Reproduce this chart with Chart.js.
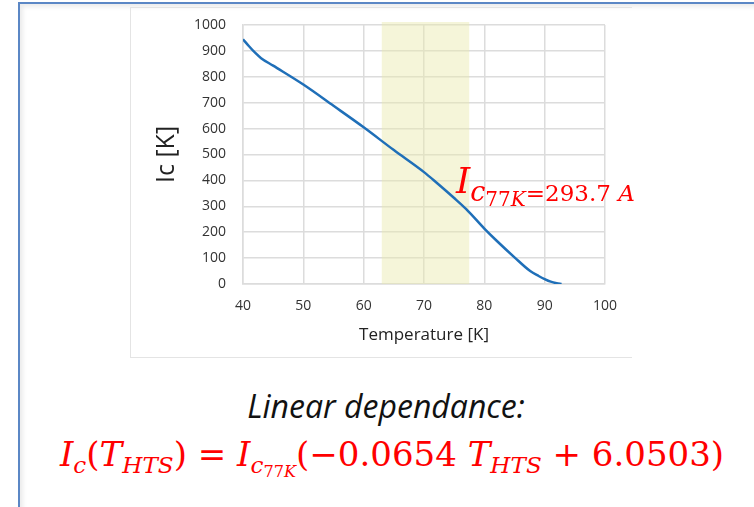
<!DOCTYPE html>
<html lang="en">
<head>
<meta charset="UTF-8">
<title>Ic vs Temperature</title>
<script src="https://cdn.jsdelivr.net/npm/chart.js"></script>
<style>
    html, body {
        margin: 0;
        padding: 0;
        width: 754px;
        height: 507px;
        background: #fff;
        overflow: hidden;
        position: relative;
    }
    .slide-frame {
        position: absolute;
        left: 18px;
        top: 2px;
        width: 760px;
        height: 520px;
        border-top: 2px solid #5b87c5;
        border-left: 2px solid #5b87c5;
        box-shadow: inset 3px 3px 4px rgba(0,0,0,0.08);
    }
    .chart-box {
        position: absolute;
        left: 130px;
        top: 7px;
        width: 502px;
        height: 351px;
        border: 1px solid #e4e4e4;
        border-right: none;
        box-sizing: border-box;
    }
    .chart-box canvas {
        position: absolute;
        left: 0;
        top: 0;
    }
    .ic-label {
        position: absolute;
        left: 456px;
        top: 160px;
        color: #ff0000;
        font-family: 'DejaVu Serif', serif;
        white-space: nowrap;
    }
    .note {
        position: absolute;
        left: 0;
        text-align: center;
        white-space: nowrap;
    }
    .note.caption {
        top: 384px;
        width: 772px;
        font-family: 'Open Sans', sans-serif;
        font-style: italic;
        font-size: 32px;
        color: #111;
    }
    .note.eq {
        top: 434px;
        width: 784px;
        font-family: 'DejaVu Serif', serif;
        font-size: 34px;
        color: #ff0000;
    }
    i { font-style: italic; }
    .sub { font-size: 0.68em; position: relative; top: 0.3em; }
    .subsub { font-size: 0.7em; position: relative; top: 0.25em; }
</style>
</head>
<body>
<div class="slide-frame"></div>
<div class="chart-box">
    <canvas id="icChart" width="500" height="349"></canvas>
</div>

<div class="ic-label">
    <i style="font-size:36px">I</i><span style="position:relative;top:8px"><i style="font-size:27px">c</i><span style="font-size:20px;position:relative;top:5px">77<i>K</i></span><span style="font-size:23px">=293.7 <i>A</i></span></span>
</div>

<div class="note caption">Linear dependance:</div>
<div class="note eq">
    <i>I</i><span class="sub"><i>c</i></span>(<i>T</i><span class="sub"><i>HTS</i></span>) = <i>I</i><span class="sub"><i>c</i><span class="subsub">77<i>K</i></span></span>(−0.0654 <i>T</i><span class="sub"><i>HTS</i></span> + 6.0503)
</div>

<script>
// data
const temps = [40, 41, 42, 43, 45, 50, 55, 60, 65, 70, 72, 75, 77, 80, 82, 85, 87.6, 89, 90, 91, 92, 92.8];
const icValues = [945, 918, 893, 872, 843, 770, 688, 605, 517, 432, 393, 332, 289, 214, 168, 103, 50, 31, 19, 9, 3, 0];

const xTicks = [40, 50, 60, 70, 80, 90, 100];
const yTicks = [0, 100, 200, 300, 400, 500, 600, 700, 800, 900, 1000];

// shaded operating window
const bandRange = [63, 77.5];

const points = temps.map((t, i) => ({ x: t, y: icValues[i] }));

const bandPlugin = {
    id: 'band',
    beforeDatasetsDraw(chart) {
        const { ctx, chartArea, scales } = chart;
        const x0 = scales.x.getPixelForValue(bandRange[0]);
        const x1 = scales.x.getPixelForValue(bandRange[1]);
        ctx.save();
        ctx.fillStyle = 'rgba(232, 232, 170, 0.45)';
        ctx.fillRect(x0, chartArea.top - 3, x1 - x0, chartArea.bottom - chartArea.top + 3);
        ctx.restore();
    }
};

new Chart(document.getElementById('icChart'), {
    type: 'scatter',
    data: {
        datasets: [{
            data: points,
            showLine: true,
            borderColor: '#1f6fb8',
            borderWidth: 2.5,
            pointRadius: 0,
            cubicInterpolationMode: 'monotone'
        }]
    },
    options: {
        responsive: false,
        animation: false,
        layout: { padding: { left: 0, top: 17, right: 26, bottom: 0 } },
        plugins: {
            legend: { display: false },
            tooltip: { enabled: false }
        },
        scales: {
            x: {
                type: 'linear',
                min: 40,
                max: 100,
                afterBuildTicks: s => { s.ticks = xTicks.map(v => ({ value: v })); },
                afterFit: s => { s.height = 73; },
                grid: { color: '#dcdcdc', lineWidth: 1.5, drawTicks: false },
                border: { color: '#dcdcdc', width: 1.5 },
                ticks: { padding: 14, color: '#333', callback: v => String(v), font: { family: 'Open Sans', size: 14 } },
                title: {
                    display: true,
                    text: 'Temperature [K]',
                    color: '#222',
                    padding: { top: 0, bottom: 12 },
                    font: { family: 'Open Sans', size: 17 }
                }
            },
            y: {
                min: 0,
                max: 1000,
                afterBuildTicks: s => { s.ticks = yTicks.map(v => ({ value: v })); },
                afterFit: s => {
                    s.width = 112;
                    // keep label overflow from pushing the plot top down
                    s.paddingTop = 0;
                    s.paddingBottom = 0;
                },
                grid: { color: '#dcdcdc', lineWidth: 1.5, drawTicks: false },
                border: { color: '#dcdcdc', width: 1.5 },
                ticks: { padding: 17, color: '#333', callback: v => String(v), font: { family: 'Open Sans', size: 14 } },
                title: {
                    display: true,
                    text: 'Ic [K]',
                    color: '#222',
                    padding: { top: 21, bottom: 0 },
                    font: { family: 'Open Sans', size: 25 }
                }
            }
        }
    },
    plugins: [bandPlugin]
});
</script>
</body>
</html>
